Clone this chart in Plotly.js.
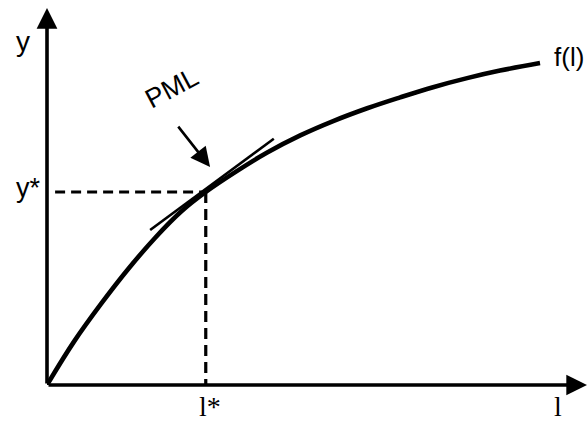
<!DOCTYPE html>
<html>
<head>
<meta charset="utf-8">
<script src="https://cdn.plot.ly/plotly-3.0.1.min.js"></script>
<style>html,body{margin:0;padding:0;background:#fff;}#chart{width:587px;height:421px;}</style>
</head>
<body>
<div id="chart"></div>
<script>
// Production function f(l) (arbitrary units)
const laborL = [0, 0.5, 1.0, 1.5, 2.0, 2.5, 2.94, 3.5, 4.07, 4.69, 5.30, 5.93, 6.54, 7.15, 7.78, 8.39, 9.13];
const outputY = [0, 1.15, 2.15, 3.07, 3.90, 4.62, 5.12, 5.66, 6.16, 6.62, 7.00, 7.34, 7.63, 7.90, 8.14, 8.34, 8.54];
// Tangent line at the PML point
const tangentL = [1.91, 4.20];
const tangentY = [4.11, 6.53];
// Optimum point
const lStar = 2.94;
const yStar = 5.12;
// Axis extents
const lMax = 10;
const yMax = 10;
// Labels
const labels = {y: "y", yStar: "y*", l: "l", lStar: "l*", f: "f(l)", pml: "PML"};

const sans = "Liberation Sans, Arial, sans-serif";
const serif = "Liberation Serif, Times New Roman, serif";

const traces = [
  {x: laborL, y: outputY, mode: "lines", line: {color: "#000", width: 4.6, shape: "spline", smoothing: 1.1}, hoverinfo: "skip"},
  {x: tangentL, y: tangentY, mode: "lines", line: {color: "#000", width: 2.6}, hoverinfo: "skip"},
  {x: [0.15, lStar], y: [yStar, yStar], mode: "lines", line: {color: "#000", width: 3.2, dash: "10px,6px"}, hoverinfo: "skip"},
  {x: [lStar, lStar], y: [yStar, 0], mode: "lines", line: {color: "#000", width: 3.2, dash: "11px,6px"}, hoverinfo: "skip"}
];

const layout = {
  width: 587, height: 421,
  margin: {l: 47, r: 0, t: 8, b: 36},
  paper_bgcolor: "#fff", plot_bgcolor: "#fff",
  showlegend: false,
  xaxis: {range: [0, lMax], visible: false, fixedrange: true},
  yaxis: {range: [0, yMax], visible: false, fixedrange: true},
  annotations: [
    // axes with arrowheads
    {x: lMax, y: 0, ax: 0, ay: 0, axref: "x", ayref: "y", xref: "x", yref: "y", text: "", showarrow: true,
     arrowhead: 2, arrowsize: 1.15, arrowwidth: 3.6, arrowcolor: "#000"},
    {x: 0, y: yMax, ax: 0, ay: 0, axref: "x", ayref: "y", xref: "x", yref: "y", text: "", showarrow: true,
     arrowhead: 2, arrowsize: 1.15, arrowwidth: 3.6, arrowcolor: "#000"},
    // PML pointer arrow
    {x: 3.02, y: 5.78, ax: -33, ay: -42, text: "", showarrow: true,
     arrowhead: 2, arrowsize: 1.5, arrowwidth: 2.6, arrowcolor: "#000"},
    // texts
    {x: 0, y: 9.02, text: labels.y, showarrow: false, xanchor: "right", xshift: -15, yshift: 3,
     font: {family: sans, size: 28, color: "#000"}},
    {x: 0, y: yStar, text: labels.yStar, showarrow: false, xanchor: "right", xshift: -4, yshift: 4,
     font: {family: sans, size: 27, color: "#000"}},
    {x: lStar, y: 0, text: labels.lStar, showarrow: false, yanchor: "top", yshift: -4, xshift: 4,
     font: {family: serif, size: 28, color: "#000"}},
    {x: 9.46, y: 0, text: labels.l, showarrow: false, yanchor: "top", yshift: -4,
     font: {family: serif, size: 28, color: "#000"}},
    {x: laborL[laborL.length - 1], y: outputY[outputY.length - 1], text: labels.f, showarrow: false,
     xanchor: "left", xshift: 12, yshift: 6, font: {family: sans, size: 26, color: "#000"}},
    {x: 2.31, y: 7.88, text: labels.pml, showarrow: false, textangle: -28,
     font: {family: sans, size: 27, color: "#000"}}
  ]
};

Plotly.newPlot("chart", traces, layout, {staticPlot: true, displayModeBar: false});
</script>
</body>
</html>
